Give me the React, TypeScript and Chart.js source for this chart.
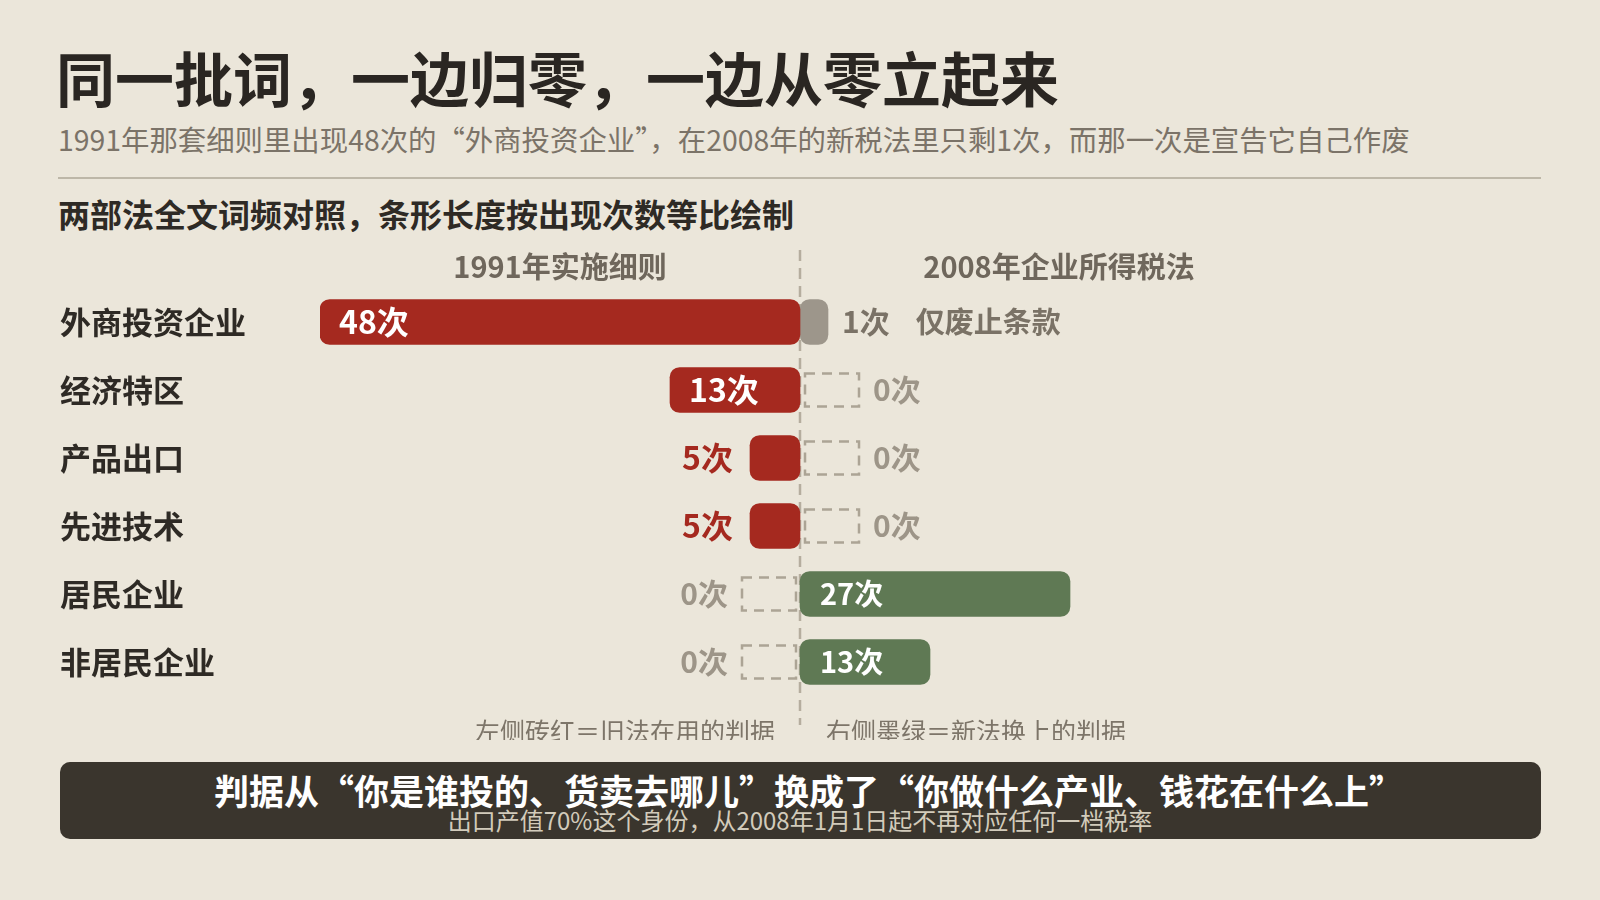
import React, { useEffect, useRef } from 'react';
import { Chart, registerables } from 'chart.js';

Chart.register(...registerables);

// ---- data ----
const categories = ['外商投资企业', '经济特区', '产品出口', '先进技术', '居民企业', '非居民企业'];
const oldCounts = [48, 13, 5, 5, 0, 0];
const newCounts = [1, 0, 0, 0, 27, 13];
const newNotes = ['仅废止条款', '', '', '', '', ''];
const unit = '次';
const oldHeader = '1991年实施细则';
const newHeader = '2008年企业所得税法';
const oldLegend = '左侧砖红＝旧法在用的判据';
const newLegend = '右侧墨绿＝新法换上的判据';
const titleText = '同一批词，一边归零，一边从零立起来';
const subtitleText = '1991年那套细则里出现48次的“外商投资企业”，在2008年的新税法里只剩1次，而那一次是宣告它自己作废';
const sectionText = '两部法全文词频对照，条形长度按出现次数等比绘制';
const bannerMain = '判据从“你是谁投的、货卖去哪儿”换成了“你做什么产业、钱花在什么上”';
const bannerSub = '出口产值70%这个身份，从2008年1月1日起不再对应任何一档税率';

const FONT = '"Noto Sans CJK SC", "Noto Sans", sans-serif';
const RED = '#a5291f';
const GREEN = '#5f7954';
const GREY_BAR = '#9d968b';
const DASH = '#aca495';
const BG = '#ebe6da';

function dashedRect(ctx: CanvasRenderingContext2D, x: number, y: number, w: number, h: number) {
  ctx.save();
  ctx.strokeStyle = DASH;
  ctx.lineWidth = 2.5;
  ctx.setLineDash([10, 7]);
  ctx.strokeRect(x, y, w, h);
  ctx.restore();
}

const butterflyPlugin = {
  id: 'butterfly',
  beforeDatasetsDraw(chart: any) {
    const ctx = chart.ctx as CanvasRenderingContext2D;
    const x0 = chart.scales.x.getPixelForValue(0);
    ctx.save();
    ctx.strokeStyle = '#b5ad9e';
    ctx.lineWidth = 2.5;
    ctx.setLineDash([11, 7]);
    ctx.beginPath();
    ctx.moveTo(x0, 10);
    ctx.lineTo(x0, 485);
    ctx.stroke();
    ctx.setLineDash([]);
    ctx.textBaseline = 'middle';
    ctx.textAlign = 'center';
    ctx.font = `700 29px ${FONT}`;
    ctx.fillStyle = '#6f675c';
    ctx.fillText(oldHeader, x0 - 240, 27);
    ctx.fillText(newHeader, x0 + 259, 27);
    ctx.font = `400 25px ${FONT}`;
    ctx.fillStyle = '#7d7569';
    ctx.textAlign = 'right';
    ctx.fillText(oldLegend, x0 - 25, 491);
    ctx.textAlign = 'left';
    ctx.fillText(newLegend, x0 + 26, 491);
    ctx.restore();
  },
  afterDatasetsDraw(chart: any) {
    const ctx = chart.ctx as CanvasRenderingContext2D;
    const x0 = chart.scales.x.getPixelForValue(0);
    const yScale = chart.scales.y;
    const oldMeta = chart.getDatasetMeta(0);
    const newMeta = chart.getDatasetMeta(1);
    ctx.save();
    ctx.textBaseline = 'middle';
    categories.forEach((_, i) => {
      const y = yScale.getPixelForValue(i);
      // old side
      const ov = oldCounts[i];
      const ot = `${ov}${unit}`;
      if (!ov) {
        dashedRect(ctx, x0 - 58, y - 16.5, 54, 33);
        ctx.font = `700 30px ${FONT}`;
        ctx.fillStyle = '#9d9588';
        ctx.textAlign = 'right';
        ctx.fillText(ot, x0 - 72, y);
      } else {
        const el = oldMeta.data[i];
        const left = Math.min(el.x, el.base);
        const w = Math.abs(el.x - el.base);
        ctx.font = `700 32px ${FONT}`;
        if (w >= 100) {
          ctx.fillStyle = '#ffffff';
          ctx.textAlign = 'left';
          ctx.fillText(ot, left + 19, y);
        } else {
          ctx.fillStyle = RED;
          ctx.textAlign = 'right';
          ctx.fillText(ot, left - 17, y);
        }
      }
      // new side
      const nv = newCounts[i];
      const nt = `${nv}${unit}`;
      if (!nv) {
        dashedRect(ctx, x0 + 5, y - 16.5, 54, 33);
        ctx.font = `700 30px ${FONT}`;
        ctx.fillStyle = '#9d9588';
        ctx.textAlign = 'left';
        ctx.fillText(nt, x0 + 73, y);
      } else {
        const el = newMeta.data[i];
        const right = Math.max(el.x, el.base);
        const left = Math.min(el.x, el.base);
        const w = right - left;
        if (w >= 100) {
          ctx.font = `700 29px ${FONT}`;
          ctx.fillStyle = '#ffffff';
          ctx.textAlign = 'left';
          ctx.fillText(nt, left + 20, y);
        } else {
          ctx.font = `700 30px ${FONT}`;
          ctx.fillStyle = '#7a7266';
          ctx.textAlign = 'left';
          ctx.fillText(nt, right + 14, y);
          if (newNotes[i]) {
            const tw = ctx.measureText(nt).width;
            ctx.font = `700 29px ${FONT}`;
            ctx.fillText(newNotes[i], right + 14 + tw + 26, y);
          }
        }
      }
    });
    ctx.restore();
  },
};

function ButterflyChart() {
  const ref = useRef<HTMLCanvasElement | null>(null);
  useEffect(() => {
    let chart: Chart | null = null;
    let cancelled = false;
    const build = () => {
      if (cancelled || !ref.current) return;
      chart = new Chart(ref.current, {
        type: 'bar',
        data: {
          labels: categories,
          datasets: [
            {
              label: oldHeader,
              data: oldCounts.map((v) => (v ? -v : null)),
              backgroundColor: RED,
              borderRadius: 10,
              borderSkipped: false,
              barThickness: 45,
              grouped: false,
            },
            {
              label: newHeader,
              data: newCounts.map((v) => (v ? v : null)),
              backgroundColor: (c: any) => (newNotes[c.dataIndex] ? GREY_BAR : GREEN),
              borderRadius: 10,
              borderSkipped: false,
              barThickness: 45,
              minBarLength: 28,
              grouped: false,
            },
          ],
        } as any,
        options: {
          indexAxis: 'y',
          responsive: false,
          animation: false,
          layout: { padding: { left: 60, right: 60, top: 48, bottom: 44 } },
          plugins: { legend: { display: false }, tooltip: { enabled: false } },
          scales: {
            x: {
              display: false,
              min: -Math.max(...oldCounts),
              max: 74,
            },
            y: {
              grid: { display: false },
              border: { display: false },
              ticks: {
                crossAlign: 'far',
                autoSkip: false,
                color: '#2e2a25',
                font: { family: FONT, size: 31, weight: 'bold' },
              },
              afterFit: (axis: any) => {
                axis.width = 260;
              },
            },
          },
        } as any,
        plugins: [butterflyPlugin],
      });
    };
    const fonts: any = (document as any).fonts;
    if (fonts && fonts.load) {
      Promise.all([
        fonts.load(`700 30px ${FONT}`),
        fonts.load(`400 24px ${FONT}`),
      ]).then(build, build);
    } else {
      build();
    }
    return () => {
      cancelled = true;
      if (chart) chart.destroy();
    };
  }, []);
  return (
    <canvas
      ref={ref}
      width={1600}
      height={500}
      style={{ position: 'absolute', left: 0, top: 240, width: 1600, height: 500 }}
    />
  );
}

const textBase: React.CSSProperties = {
  position: 'absolute',
  whiteSpace: 'nowrap',
  lineHeight: 1,
  fontFamily: FONT,
  margin: 0,
};

export default function App() {
  useEffect(() => {
    document.body.style.margin = '0';
    document.body.style.background = BG;
  }, []);
  return (
    <div
      style={{
        position: 'absolute',
        left: 0,
        top: 0,
        width: 1600,
        height: 900,
        background: BG,
        overflow: 'hidden',
        fontFamily: FONT,
      }}
    >
      <div style={{ ...textBase, left: 56, top: 47, fontSize: 59, fontWeight: 700, color: '#2a2622' }}>{titleText}</div>
      <div style={{ ...textBase, left: 58, top: 125, fontSize: 28.4, fontWeight: 400, color: '#7b7368' }}>{subtitleText}</div>
      <div style={{ position: 'absolute', left: 58, top: 177, width: 1483, height: 2, background: '#bdb7a8' }} />
      <div style={{ ...textBase, left: 58, top: 197, fontSize: 32, fontWeight: 700, color: '#2e2a25' }}>{sectionText}</div>
      <ButterflyChart />
      <div
        style={{
          position: 'absolute',
          left: 60,
          top: 762,
          width: 1481,
          height: 77,
          background: '#3a352d',
          borderRadius: 10,
        }}
      />
      <div style={{ ...textBase, left: 9, width: 1600, textAlign: 'center', top: 772, fontSize: 35, fontWeight: 700, color: '#ffffff' }}>{bannerMain}</div>
      <div style={{ ...textBase, left: 0, width: 1600, textAlign: 'center', top: 808, fontSize: 24, fontWeight: 400, color: '#d2cbbb' }}>{bannerSub}</div>
    </div>
  );
}
